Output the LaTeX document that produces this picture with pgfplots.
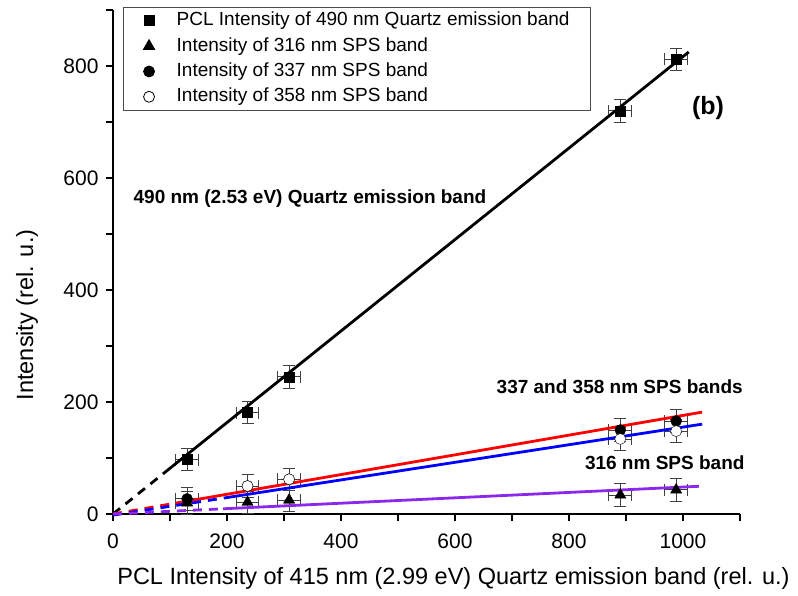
\documentclass[border=0pt]{standalone}
\usepackage{pgfplots}
\pgfplotsset{compat=1.18}
\usepackage{fontspec}
\setmainfont{Liberation Sans}
\definecolor{myviolet}{RGB}{140,40,235}
\definecolor{myred}{RGB}{255,0,0}
\definecolor{myblue}{RGB}{0,0,255}
\pgfplotsset{myerr/.style={
  error bars/x dir=both, error bars/x explicit,
  error bars/y dir=both, error bars/y explicit,
  error bars/error bar style={line width=0.9pt, black!75},
  error bars/error mark options={rotate=90, mark size=6pt, line width=0.9pt, black!75}}}
\begin{document}
\begin{tikzpicture}[x=1pt,y=1pt]
\useasboundingbox (-113,-81) rectangle (685,514);
\begin{axis}[
  at={(0,0)}, anchor=south west,
  scale only axis, width=627pt, height=504pt,
  xmin=0, xmax=1100, ymin=0, ymax=900,
  axis x line*=bottom, axis y line*=left,
  axis line style={line width=1.3pt,-},
  xtick={0,200,...,1000}, minor xtick={100,300,...,1100},
  ytick={0,200,...,800}, minor ytick={100,300,...,900},
  tick align=outside, major tick length=7pt, minor tick length=7pt,
  every tick/.style={line width=1.3pt, black},
  every minor tick/.style={line width=1.3pt, black},
  tick label style={font=\fontsize{21}{24}\selectfont},
  xticklabel style={yshift=-9pt},
  yticklabel style={xshift=-4pt},
  /pgf/number format/assume math mode=true,
  /pgf/number format/1000 sep={},
  xlabel={PCL Intensity of 415 nm (2.99 eV) Quartz emission band (rel. u.)},
  ylabel={Intensity (rel. u.)},
  every axis x label/.style={at={(axis description cs:0.543,0)}, anchor=center, yshift=-64pt, font=\fontsize{23.5}{26}\selectfont},
  every axis y label/.style={at={(axis description cs:-0.137,0.395)}, rotate=90, anchor=center, font=\fontsize{23.5}{26}\selectfont},
  clip=false,
  legend style={at={(axis description cs:0.016,1.006)}, anchor=north west,
    draw=black!70, line width=0.8pt, font=\fontsize{19}{22}\selectfont,
    nodes={text height=14pt, text depth=4pt, inner sep=1pt},
    row sep=5.3pt, column sep=21pt, inner xsep=20pt, inner ysep=3.5pt},
  legend cell align=left,
]
% data series
\addplot[only marks, mark=square*, mark size=5pt, black, myerr] coordinates {
 (130,97) +- (20,20)
 (236,181) +- (20,20)
 (309,245) +- (20,20)
 (890,720) +- (20,20)
 (988,812) +- (20,20)
};
\addlegendentry{PCL Intensity of 490 nm Quartz emission band\hspace{12pt}}
\addplot[only marks, mark=triangle*, mark size=6.5pt, black, myerr] coordinates {
 (130,20) +- (20,20)
 (236,21) +- (20,20)
 (309,25) +- (20,20)
 (890,34) +- (20,20)
 (988,43) +- (20,20)
};
\addlegendentry{Intensity of 316 nm SPS band}
\addplot[only marks, mark=*, mark size=5.5pt, black, myerr] coordinates {
 (130,27) +- (20,20)
 (236,50) +- (20,20)
 (309,62) +- (20,20)
 (890,150) +- (20,20)
 (988,166) +- (20,20)
};
\addlegendentry{Intensity of 337 nm SPS band}
\addplot[only marks, mark=*, mark size=5.5pt, black, mark options={fill=white}, myerr] coordinates {
 (236,50) +- (20,20)
 (309,62) +- (20,20)
 (890,134) +- (20,20)
 (988,148) +- (20,20)
};
\addlegendentry{Intensity of 358 nm SPS band}
% fit lines
\addplot[black, line width=2.8pt, dash pattern=on 9pt off 7pt, forget plot] coordinates {(0,0) (95,77.6)};
\addplot[black, line width=2.8pt, forget plot] coordinates {(95,77.6) (1010,825)};
\addplot[myred, line width=2.8pt, dash pattern=on 9pt off 7pt, forget plot] coordinates {(0,0) (110,19.4)};
\addplot[myred, line width=2.8pt, forget plot] coordinates {(110,19.4) (1018,179.2)};
\addplot[myred, line width=2.8pt, dash pattern=on 9pt off 7pt, forget plot] coordinates {(1018,179.2) (1040,183)};
\addplot[myblue, line width=2.8pt, dash pattern=on 9pt off 7pt, forget plot] coordinates {(0,-2) (200,29.4)};
\addplot[myblue, line width=2.8pt, forget plot] coordinates {(200,29.4) (1018,158)};
\addplot[myblue, line width=2.8pt, dash pattern=on 9pt off 7pt, forget plot] coordinates {(1018,158) (1042,161.8)};
\addplot[myviolet, line width=2.8pt, dash pattern=on 9pt off 7pt, forget plot] coordinates {(0,0) (193,9.3)};
\addplot[myviolet, line width=2.8pt, forget plot] coordinates {(193,9.3) (1028,49.5)};
% annotations
\node[font=\bfseries\fontsize{19}{22}\selectfont, anchor=west] at (axis cs:30,564) {490 nm (2.53 eV) Quartz emission band};
\node[font=\bfseries\fontsize{25}{28}\selectfont] at (axis cs:1044,725) {(b)};
\node[font=\bfseries\fontsize{19}{22}\selectfont] at (axis cs:889,227) {337 and 358 nm SPS bands};
\node[font=\bfseries\fontsize{19}{22}\selectfont] at (axis cs:968,91) {316 nm SPS band};
\end{axis}
\end{tikzpicture}
\end{document}
